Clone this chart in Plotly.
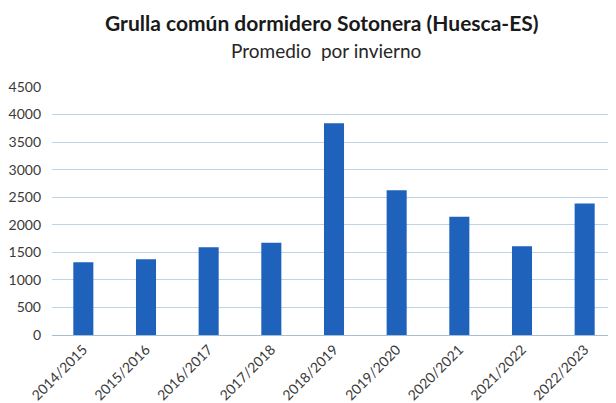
import plotly.graph_objects as go

categories = ["2014/2015", "2015/2016", "2016/2017", "2017/2018", "2018/2019",
              "2019/2020", "2020/2021", "2021/2022", "2022/2023"]
values = [1318, 1373, 1590, 1675, 3842, 2625, 2147, 1612, 2384]
y_ticks = [0, 500, 1000, 1500, 2000, 2500, 3000, 3500, 4000, 4500]

title_text = "Grulla común dormidero Sotonera (Huesca-ES)"
subtitle_text = "Promedio  por invierno"

fig = go.Figure(go.Bar(x=categories, y=values, marker=dict(color="#1F62BC", line=dict(width=0))))

fig.update_layout(
    width=616, height=403,
    margin=dict(l=44, r=8, t=79, b=76, autoexpand=False),
    paper_bgcolor="white", plot_bgcolor="white",
    bargap=0.68,
    showlegend=False,
    font=dict(family="Lato, Open Sans, sans-serif", color="#3a3a3a"),
    annotations=[
        dict(text="<b>" + title_text + "</b>", xref="paper", yref="paper",
             x=0.479, y=1.262, xanchor="center", yanchor="middle", showarrow=False,
             font=dict(size=21, color="#1a1a1a", family="Lato, sans-serif")),
        dict(text=subtitle_text, xref="paper", yref="paper",
             x=0.486, y=1.149, xanchor="center", yanchor="middle", showarrow=False,
             font=dict(size=19, color="#262626", family="Lato, sans-serif")),
    ],
)
fig.update_xaxes(
    tickangle=-45, tickfont=dict(size=14, color="#3a3a3a"),
    showgrid=False, showline=True, linecolor="#a6bfd2", linewidth=1,
    ticks="", automargin=False,
)
fig.update_yaxes(
    range=[0, 4500], tickvals=y_ticks, ticktext=[str(v) for v in y_ticks],
    tickfont=dict(size=14, color="#3a3a3a"),
    showgrid=True, gridcolor="#bcd4e4", gridwidth=1,
    zeroline=False, showline=False, ticks="", ticklabelstandoff=10, automargin=False,
)

fig.write_html("out.html")
